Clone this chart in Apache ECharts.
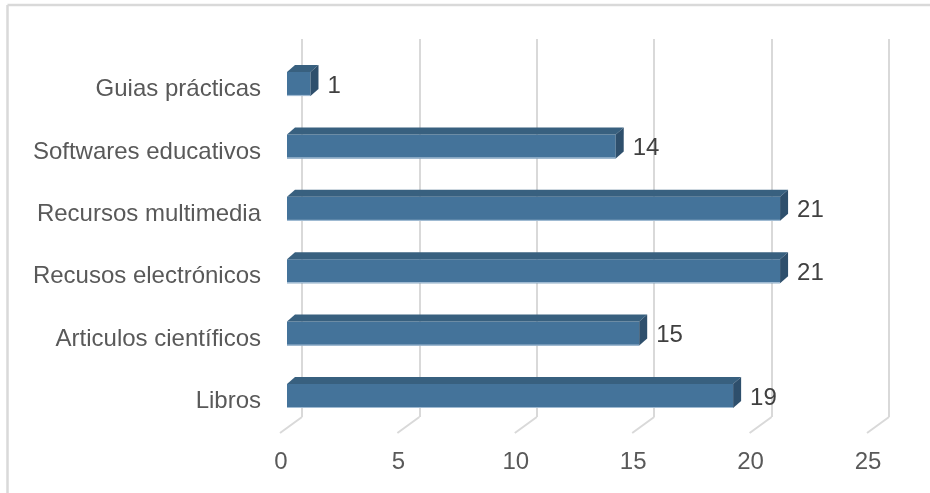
<!DOCTYPE html>
<html>
<head>
<meta charset="utf-8">
<script src="https://cdn.jsdelivr.net/npm/echarts@6/dist/echarts.min.js"></script>
<style>html,body{margin:0;padding:0;background:#fff;}#c{width:930px;height:493px;}</style>
</head>
<body>
<div id="c"></div>
<script>
const categories = ['Guias prácticas', 'Softwares educativos', 'Recursos multimedia', 'Recusos electrónicos', 'Articulos científicos', 'Libros'];
const values = [1, 14, 21, 21, 15, 19];
const tickValues = [0, 5, 10, 15, 20, 25];

const FONT = "'Liberation Sans', Arial, sans-serif";
const chart = echarts.init(document.getElementById('c'), null, {renderer: 'canvas'});

const DX = 8, DY = -7, BH = 24;

chart.setOption({
  backgroundColor: '#ffffff',
  animation: false,
  graphic: [
    {type: 'line', shape: {x1: 7.5, y1: 5, x2: 7.5, y2: 493}, style: {stroke: '#d9d9d9', lineWidth: 2.5}, z: 0},
    {type: 'line', shape: {x1: 7.5, y1: 5, x2: 930, y2: 5}, style: {stroke: '#d9d9d9', lineWidth: 2.5}, z: 0}
  ],
  grid: [
    {left: 302, right: 41, top: 39, bottom: 76},
    {left: 281, right: 62, top: 39, bottom: 76},
    {left: 287, right: 56, top: 52.8, bottom: 65.8},
    {left: 287, right: 56, top: 58.3, bottom: 60.3}
  ],
  xAxis: [
    {gridIndex: 0, type: 'value', min: 0, max: 25, interval: 5,
     axisLine: {show: false}, axisTick: {show: false}, axisLabel: {show: false},
     splitLine: {show: true, lineStyle: {color: '#d9d9d9', width: 2}}},
    {gridIndex: 1, type: 'value', min: 0, max: 25, interval: 5,
     axisLine: {show: false}, axisTick: {show: false}, splitLine: {show: false},
     axisLabel: {show: true, margin: 33, fontSize: 24, color: '#595959', fontFamily: FONT}},
    {gridIndex: 2, type: 'value', min: 0, max: 25, show: false},
    {gridIndex: 3, type: 'value', min: 0, max: 25, show: false}
  ],
  yAxis: [
    {gridIndex: 0, type: 'value', min: 0, max: 1, show: false},
    {gridIndex: 1, type: 'value', min: 0, max: 1, show: false},
    {gridIndex: 2, type: 'category', data: categories, inverse: true, show: false},
    {gridIndex: 3, type: 'category', data: categories, inverse: true,
     axisLine: {show: false}, axisTick: {show: false}, splitLine: {show: false},
     axisLabel: {margin: 26, fontSize: 24, color: '#595959', fontFamily: FONT}}
  ],
  series: [
    {
      type: 'custom', name: 'floor', xAxisIndex: 0, yAxisIndex: 0, silent: true, z: 1,
      data: tickValues.map(v => [v, 0]),
      renderItem: function (params, api) {
        const p = api.coord([api.value(0), 0]);
        return {type: 'line', shape: {x1: p[0], y1: p[1], x2: p[0] - 22, y2: p[1] + 16},
                style: {stroke: '#d9d9d9', lineWidth: 2}};
      }
    },
    {
      type: 'custom', name: 'bars', xAxisIndex: 2, yAxisIndex: 2, z: 5,
      data: values.map((v, i) => [v, i]),
      renderItem: function (params, api) {
        const v = api.value(0), i = api.value(1);
        const x0 = api.coord([0, i])[0];
        const p = api.coord([v, i]);
        const x1 = p[0], cy = p[1];
        const top = cy - BH / 2, bot = cy + BH / 2;
        return {
          type: 'group',
          children: [
            {type: 'rect', shape: {x: x0, y: top, width: x1 - x0, height: BH}, style: {fill: '#44739a'}},
            {type: 'line', shape: {x1: x0, y1: bot - 0.5, x2: x1, y2: bot - 0.5}, style: {stroke: '#9fbad2', lineWidth: 1.2}},
            {type: 'polygon', shape: {points: [[x0, top], [x0 + DX, top + DY], [x1 + DX, top + DY], [x1, top]]}, style: {fill: '#38607f'}},
            {type: 'polygon', shape: {points: [[x1, top], [x1 + DX, top + DY], [x1 + DX, bot + DY], [x1, bot]]}, style: {fill: '#2e4f6c'}},
            {type: 'text', style: {x: x1 + DX + 9, y: cy + 2, text: String(v), fill: '#404040', fontSize: 24, fontFamily: FONT, verticalAlign: 'middle', align: 'left'}}
          ]
        };
      }
    }
  ]
});
</script>
</body>
</html>
